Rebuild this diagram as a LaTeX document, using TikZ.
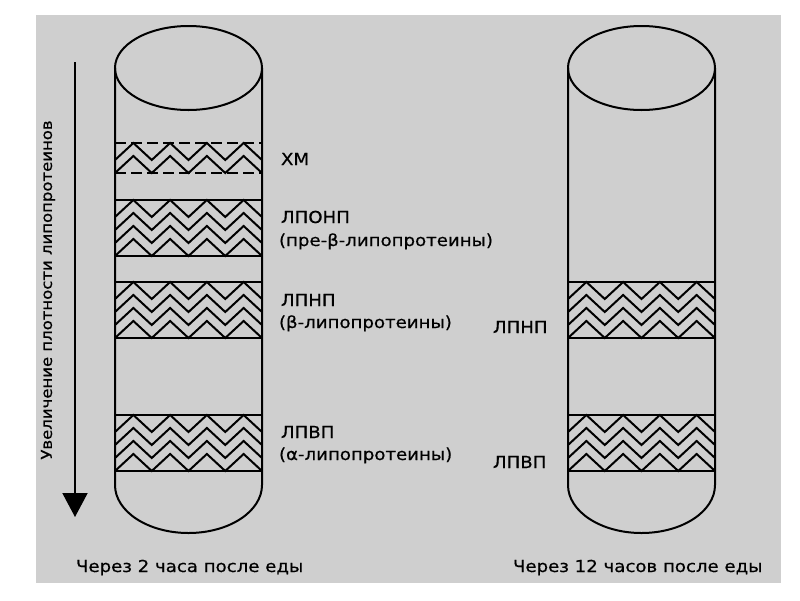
\documentclass[tikz,border=0pt]{standalone}
\usepackage{fontspec}
\setmainfont{DejaVu Sans}[FakeStretch=1.1,FakeBold=0.6]
\usetikzlibrary{arrows.meta}
\definecolor{bggray}{RGB}{207,207,207}
% zigzag rows inside a band: left x, top y, number of rows
\newcommand{\zigrows}[3]{%
  \foreach \r in {1,...,#3}
    \draw (#1,#2+13*\r+4) \foreach \i in {1,...,8}{ -- ++(18.375,{17*cos(180*\i)}) };%
}
\tikzset{lbl/.style={anchor=base west,inner sep=0pt,font=\fontsize{16.5}{18}\selectfont}}

\begin{document}
\begin{tikzpicture}[x=1pt,y=1pt,yscale=-1,line width=2pt]
  \useasboundingbox (0,0) rectangle (800,600);
  \fill[bggray] (36,15) rectangle (781,583);
  % tubes
  \foreach \cx in {188.5,641.5}{
    \draw (\cx,68) ellipse[x radius=73.5,y radius=42];
    \draw (\cx-73.5,68) -- (\cx-73.5,485) arc[start angle=180,end angle=0,x radius=73.5,y radius=48] -- (\cx+73.5,68);
  }
  % bands
  \foreach \x/\t in {115/200,115/282,115/415,568/282,568/415}{
    \draw (\x,\t) -- ++(147,0) (\x,\t+56) -- ++(147,0);
    \zigrows{\x}{\t}{4}
  }
  \draw[dash pattern=on 11pt off 5pt] (115,143) -- ++(147,0) (115,173) -- ++(147,0);
  \zigrows{115}{143}{2}
  % density arrow
  \coordinate (atop) at (75,62); \coordinate (atip) at (75,517);
  \draw[-{Triangle[length=24pt,width=25pt]}] (atop) -- (atip);
  \node[rotate=90,font=\fontsize{15}{16}\selectfont] (dens) at (48,290) {Увеличение плотности липопротеинов};
  % labels
  \node[lbl] (xm) at (280,165) {ХМ};
  \node[lbl] (vldl) at (280,223) {ЛПОНП};
  \node[lbl] (vldlb) at (278,246) {(пре-β-липопротеины)};
  \node[lbl] (ldl) at (280,306) {ЛПНП};
  \node[lbl] (ldlb) at (278,328) {(β-липопротеины)};
  \node[lbl] (hdl) at (280,438) {ЛПВП};
  \node[lbl] (hdlb) at (278,460) {(α-липопротеины)};
  \node[lbl] (ldlr) at (492,333) {ЛПНП};
  \node[lbl] (hdlr) at (492,468) {ЛПВП};
  \node[lbl] (capl) at (75,572) {Через 2 часа после еды};
  \node[lbl] (capr) at (512,572) {Через 12 часов после еды};
\end{tikzpicture}
\end{document}
